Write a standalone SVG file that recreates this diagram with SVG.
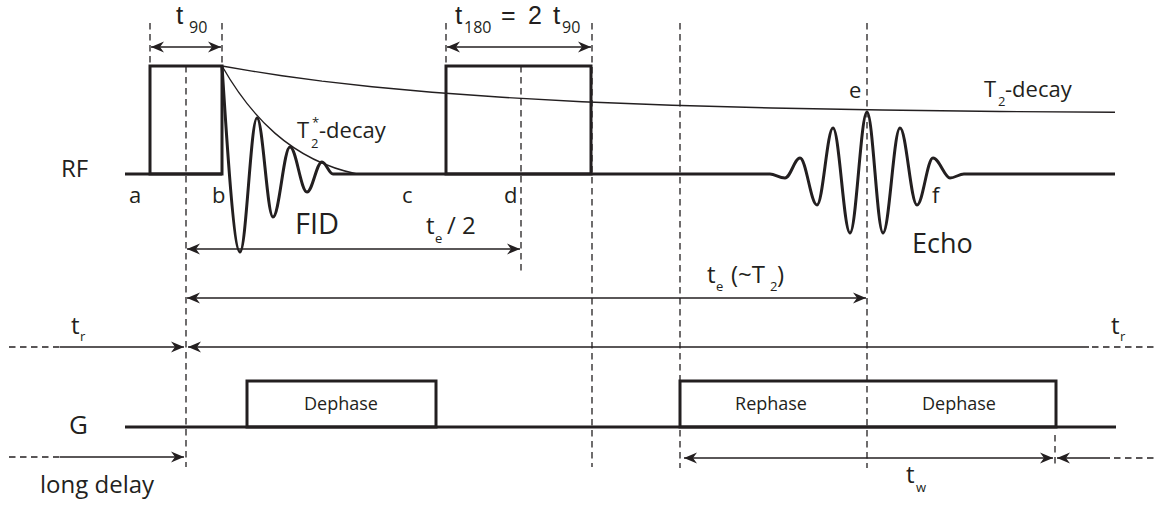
<svg xmlns="http://www.w3.org/2000/svg" width="1157" height="507" viewBox="0 0 1157 507">
<style>
.thick{fill:none;stroke:#231f20;stroke-width:3;stroke-linejoin:miter}
.thin{fill:none;stroke:#231f20;stroke-width:1.4}
.dash{fill:none;stroke:#231f20;stroke-width:1.3;stroke-dasharray:6.5 4.5}
.arr{fill:none;stroke:#231f20;stroke-width:1.6}
.arrs{marker-start:url(#ah)}
.arre{marker-end:url(#ah)}
text{font-family:"Open Sans","Liberation Sans",sans-serif;fill:#231f20}
.tt{font-family:"Liberation Sans",sans-serif;font-size:26px}
.big{font-size:24px}
.top{font-family:"Liberation Sans",sans-serif;font-size:25px}
.mid{font-size:22px}
.lab{font-size:22px}
.sub{font-size:13px}
.sub16{font-size:16px}
.box{font-size:18px;text-anchor:middle}
</style>
<defs>
<marker id="ah" viewBox="-14 -7 15 14" refX="0" refY="0" markerWidth="15" markerHeight="14" markerUnits="userSpaceOnUse" orient="auto-start-reverse">
<path d="M0,0 L-13,-5.5 L-9,0 L-13,5.5 Z" fill="#231f20"/>
</marker>
</defs>
<rect width="1157" height="507" fill="#ffffff"/>

<g id="connectors">
<line class="dash" x1="150" y1="23" x2="150" y2="66"/>
<line class="dash" x1="222" y1="23" x2="222" y2="66"/>
<line class="dash" x1="186" y1="66" x2="186" y2="467"/>
<line class="dash" x1="446" y1="23" x2="446" y2="66"/>
<line class="dash" x1="521" y1="66" x2="521" y2="273"/>
<line class="dash" x1="592" y1="23" x2="592" y2="467"/>
<line class="dash" x1="680" y1="23" x2="680" y2="468"/>
<line class="dash" x1="867" y1="23" x2="867" y2="468"/>
<line class="dash" x1="1055" y1="435" x2="1055" y2="468"/>
<line class="arr arrs arre" x1="151" y1="47" x2="221" y2="47"/>
<line class="arr arrs arre" x1="447" y1="47" x2="591" y2="47"/>
<line class="arr arrs arre" x1="187" y1="249" x2="520" y2="249"/>
<line class="arr arrs arre" x1="187" y1="298" x2="866" y2="298"/>
<line class="dash" x1="9" y1="347" x2="62" y2="347"/>
<line class="arr arre" x1="60" y1="347" x2="184" y2="347"/>
<line class="arr arrs" x1="188" y1="347" x2="1089" y2="347"/>
<line class="dash" x1="1092" y1="347" x2="1157" y2="347"/>
<line class="dash" x1="9" y1="457" x2="62" y2="457"/>
<line class="arr arre" x1="60" y1="457" x2="184" y2="457"/>
<line class="arr arrs arre" x1="684" y1="458" x2="1053" y2="458"/>
<line class="arr arrs" x1="1057" y1="458" x2="1110" y2="458"/>
<line class="dash" x1="1114" y1="458" x2="1157" y2="458"/>
</g>

<g id="t2-decay">
<polyline class="thin" points="222,66 252,71.1 282,75.7 322,81.1 372,86.7 432,92.3 502,97.3 582,101.7 672,105.2 772,108 882,110 1000,111.5 1115,112.3"/>
</g>
<g id="t2star-decay">
<path class="thin" d="M222,66 C250,115 290,160 357,174"/>
</g>

<g id="rf-track">
<path class="thick" d="M125,174 L222,174 M333,174 L770,174 M964,174 L1115,174"/>
</g>
<g id="rf-pulse-90">
<rect class="thick" x="150" y="66" width="72" height="108"/>
</g>
<g id="rf-pulse-180">
<rect class="thick" x="446" y="66" width="145" height="108"/>
</g>
<g id="fid">
<path class="thick" d="M222,66 C225,110 233,252 240,252 C246.2,252 250.8,118 257,118 C262.8,118 267.2,217 273,217 C279.2,217 283.8,147 290,147 C296.2,147 300.8,192 307,192 C312.5,192 316.5,162 322,162 C326,162 329,174 333,174"/>
</g>
<g id="echo">
<path class="thick" d="M770,174 C775,174 779,178 785,178 C790.5,178 794.5,158 800,158 C806.2,158 810.8,205 817,205 C822.8,205 827.2,128 833,128 C839.2,128 843.8,233 850,233 C856.2,233 860.8,112 867,112 C872.8,112 877.2,233 883,233 C889.2,233 893.8,128 900,128 C906.2,128 910.8,205 917,205 C922.8,205 927.2,158 933,158 C939.2,158 944.8,178 950,178 C955,178 959,174 964,174"/>
</g>

<g id="g-track">
<path class="thick" d="M125,427 L1116,427"/>
</g>
<g id="g-dephase">
<rect class="thick" x="247" y="381" width="189" height="46"/>
<text class="box" x="341" y="410">Dephase</text>
</g>
<g id="g-rephase-dephase">
<rect class="thick" x="680" y="381" width="376" height="46"/>
<text class="box" x="771" y="410">Rephase</text>
<text class="box" x="959" y="410">Dephase</text>
</g>

<g id="labels">
<text class="big" x="61" y="177">RF</text>
<text x="69" y="434" style="font-size:26px">G</text>
<text class="lab" x="129" y="203">a</text>
<text class="lab" x="212" y="203">b</text>
<text class="lab" x="402" y="203">c</text>
<text class="lab" x="504" y="203">d</text>
<text class="lab" x="849" y="98">e</text>
<text class="lab" x="932" y="203">f</text>
<text x="295" y="234" style="font-size:29px">FID</text>
<text x="912" y="253" style="font-size:27px">Echo</text>
<text x="40" y="493" style="font-size:24px">long delay</text>

<text class="tt" x="176" y="24">t</text><text class="sub16" x="189" y="33">90</text>
<text class="tt" x="455" y="24">t</text><text class="sub16" x="464" y="33">180</text>
<text class="top" x="501" y="24">=</text><text class="top" x="528" y="24">2</text>
<text class="tt" x="553" y="24">t</text><text class="sub16" x="562" y="33">90</text>

<text class="mid" x="297" y="138">T</text><text class="sub" x="311" y="148">2</text><text class="sub" x="312" y="127">*</text><text class="mid" x="319" y="138">-decay</text>
<text class="mid" x="984" y="97">T</text><text class="sub" x="998" y="106">2</text><text class="mid" x="1005" y="97">-decay</text>

<text class="big" x="426" y="234">t</text><text class="sub" x="435" y="243">e</text><text class="big" x="447" y="234">/ 2</text>
<text class="big" x="707" y="283">t</text><text class="sub" x="716" y="291">e</text><text class="big" x="731" y="283">(~T</text><text class="sub" x="770" y="291">2</text><text class="big" x="777" y="283">)</text>

<text class="big" x="71" y="334">t</text><text class="sub" x="80" y="341">r</text>
<text class="big" x="1111" y="334">t</text><text class="sub" x="1120" y="341">r</text>
<text class="big" x="906" y="483">t</text><text class="sub" x="916" y="492">w</text>
</g>
</svg>
